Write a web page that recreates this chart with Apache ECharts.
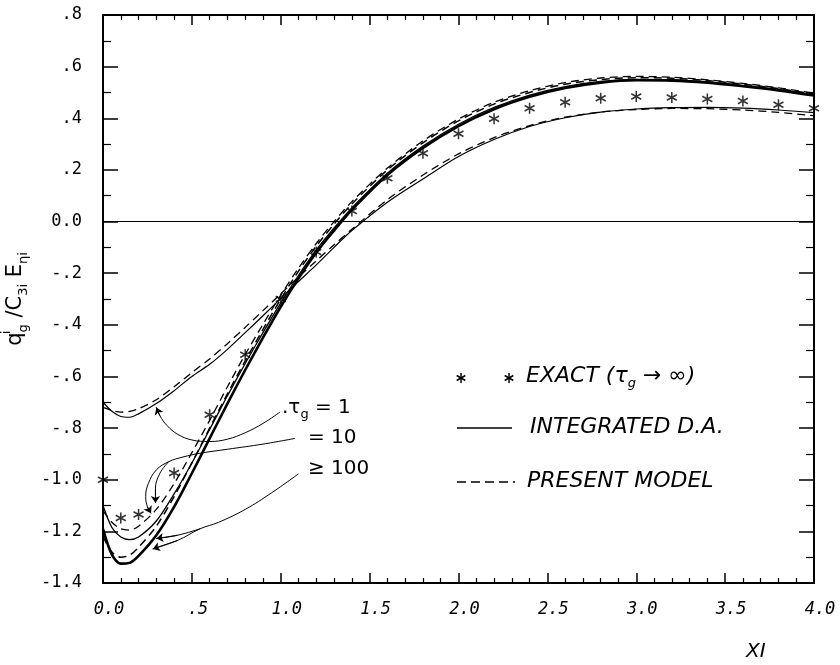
<!DOCTYPE html>
<html>
<head>
<meta charset="utf-8">
<script src="https://cdn.jsdelivr.net/npm/echarts@6/dist/echarts.min.js"></script>
<style>
html, body { margin: 0; padding: 0; background: #fff; }
#chart { width: 840px; height: 665px; }
</style>
</head>
<body>
<div id="chart"></div>
<script>
// abscissa shared by all computed curves
const xiGrid = [0, 0.05, 0.1, 0.15, 0.2, 0.3, 0.4, 0.5, 0.6, 0.7, 0.8, 0.9, 1.0, 1.1, 1.2, 1.3, 1.4,
    1.6, 1.8, 2.0, 2.2, 2.4, 2.6, 2.8, 3.0, 3.2, 3.4, 3.6, 3.8, 4.0];

// integrated D.A. (solid) and present model (dashed), one pair per tau_g
const tau1Solid = [-0.70, -0.735, -0.755, -0.758, -0.745, -0.705, -0.655, -0.60, -0.553, -0.495, -0.43, -0.365,
    -0.298, -0.232, -0.168, -0.10, -0.035, 0.075, 0.165, 0.252, 0.318, 0.368, 0.402, 0.424, 0.436, 0.441,
    0.442, 0.439, 0.432, 0.422];
const tau1Dashed = [-0.72, -0.732, -0.738, -0.735, -0.725, -0.69, -0.64, -0.585, -0.532, -0.473, -0.41, -0.345,
    -0.28, -0.215, -0.152, -0.09, -0.03, 0.085, 0.18, 0.262, 0.325, 0.372, 0.404, 0.424, 0.434, 0.438,
    0.437, 0.432, 0.423, 0.41];
const tau10Solid = [-1.10, -1.185, -1.222, -1.232, -1.222, -1.16, -1.055, -0.935, -0.805, -0.675, -0.55, -0.43,
    -0.315, -0.208, -0.11, -0.025, 0.053, 0.187, 0.292, 0.377, 0.442, 0.49, 0.523, 0.543, 0.551, 0.55,
    0.541, 0.527, 0.511, 0.491];
const tau10Dashed = [-1.12, -1.165, -1.19, -1.195, -1.18, -1.115, -1.015, -0.895, -0.77, -0.64, -0.515, -0.398,
    -0.285, -0.18, -0.085, 0.0, 0.077, 0.207, 0.312, 0.397, 0.462, 0.507, 0.538, 0.556, 0.562, 0.559,
    0.549, 0.535, 0.518, 0.497];
const tau100Solid = [-1.19, -1.29, -1.325, -1.322, -1.295, -1.215, -1.105, -0.975, -0.84, -0.705, -0.575, -0.45,
    -0.33, -0.22, -0.12, -0.035, 0.045, 0.18, 0.285, 0.37, 0.435, 0.483, 0.517, 0.538, 0.547, 0.546,
    0.538, 0.524, 0.508, 0.488];
const tau100Dashed = [-1.22, -1.28, -1.30, -1.292, -1.262, -1.18, -1.065, -0.935, -0.80, -0.667, -0.54, -0.418,
    -0.30, -0.192, -0.095, -0.01, 0.068, 0.20, 0.305, 0.39, 0.455, 0.50, 0.532, 0.55, 0.557, 0.555,
    0.546, 0.532, 0.515, 0.494];

// exact solution (tau_g -> infinity), the stars
const exactXi = [0, 0.1, 0.2, 0.4, 0.6, 0.8, 1.0, 1.2, 1.4, 1.6, 1.8, 2.0, 2.2, 2.4, 2.6, 2.8, 3.0,
    3.2, 3.4, 3.6, 3.8, 4.0];
const exactQ = [-1.0, -1.148, -1.135, -0.974, -0.748, -0.516, -0.30, -0.118, 0.041, 0.168, 0.265, 0.340,
    0.398, 0.439, 0.462, 0.478, 0.484, 0.480, 0.475, 0.467, 0.452, 0.439];

// leader lines from the tau_g labels to the curves
const leader1 = [[0.996, -0.738], [0.9, -0.782], [0.8, -0.818], [0.7, -0.843], [0.6, -0.852], [0.5, -0.846],
    [0.42, -0.824], [0.36, -0.79], [0.32, -0.752], [0.30, -0.72]];
const leader10 = [[1.08, -0.84], [0.9, -0.862], [0.7, -0.882], [0.55, -0.897], [0.45, -0.912], [0.37, -0.93],
    [0.30, -0.962], [0.255, -1.015], [0.24, -1.065], [0.25, -1.105], [0.27, -1.13]];
const leader10b = [[0.37, -0.93], [0.32, -0.975], [0.295, -1.035], [0.295, -1.09]];
const leader100 = [[1.1, -0.977], [0.95, -1.05], [0.8, -1.115], [0.65, -1.165], [0.546, -1.19], [0.42, -1.235],
    [0.28, -1.268]];
const leader100b = [[0.546, -1.19], [0.42, -1.215], [0.30, -1.228]];

const xTicks = ['0.0', '.5', '1.0', '1.5', '2.0', '2.5', '3.0', '3.5', '4.0'];

const STAR = 'path://M5,0L5,10M0.7,2.5L9.3,7.5M0.7,7.5L9.3,2.5';

function zip(xs, ys) {
    return xs.map((x, i) => [x, ys[i]]);
}

function fmtY(v) {
    v = Math.round(v * 10) / 10;
    if (v === 0) return '0.0';
    let sign = v < 0 ? '-' : '';
    let a = Math.abs(v);
    return a < 1 ? sign + '.' + Math.round(a * 10) : sign + a.toFixed(1);
}

function fmtX(v) {
    return xTicks[Math.round(v / 0.5)];
}

function curve(values, dashed, width) {
    return {
        type: 'line',
        data: zip(xiGrid, values),
        smooth: 0.3,
        symbol: 'none',
        silent: true,
        lineStyle: { color: '#000', width: width, type: dashed ? [8, 5] : 'solid' }
    };
}

function leader(points) {
    let n = points.length;
    return {
        type: 'line',
        data: points,
        smooth: 0.4,
        symbol: 'none',
        silent: true,
        lineStyle: { color: '#000', width: 1 },
        markLine: {
            silent: true,
            symbol: ['none', 'arrow'],
            symbolSize: 7,
            label: { show: false },
            lineStyle: { color: '#000', width: 1, type: 'solid' },
            data: [[{ coord: points[n - 2] }, { coord: points[n - 1] }]]
        }
    };
}

// legend asterisk drawn as three strokes around (cx, cy)
function starGlyph(cx, cy) {
    let st = { stroke: '#000', lineWidth: 1.5 };
    return {
        type: 'group', x: cx, y: cy,
        children: [
            { type: 'line', shape: { x1: 0, y1: -5, x2: 0, y2: 5 }, style: st },
            { type: 'line', shape: { x1: -4.3, y1: -2.5, x2: 4.3, y2: 2.5 }, style: st },
            { type: 'line', shape: { x1: -4.3, y1: 2.5, x2: 4.3, y2: -2.5 }, style: st }
        ]
    };
}

function baseXAxis(pos, labels) {
    return {
        type: 'value', min: 0, max: 4, interval: 0.5, position: pos,
        axisLine: { onZero: false, lineStyle: { color: '#000', width: 2 } },
        axisTick: { inside: true, length: 10, lineStyle: { color: '#000', width: 1.5 } },
        minorTick: { show: true, splitNumber: 5, length: 5, lineStyle: { color: '#000', width: 1.2 } },
        splitLine: { show: false },
        axisLabel: labels ? {
            formatter: fmtX, color: '#000', fontFamily: 'DejaVu Sans Mono', fontSize: 17,
            fontStyle: 'italic', margin: 18, padding: [0, 0, 0, 12]
        } : { show: false }
    };
}

function baseYAxis(pos, labels) {
    return {
        type: 'value', min: -1.4, max: 0.8, interval: 0.2, position: pos,
        axisLine: { onZero: false, lineStyle: { color: '#000', width: 2 } },
        axisTick: { inside: true, length: 15, lineStyle: { color: '#000', width: 1.5 } },
        minorTick: { show: true, splitNumber: 2, length: 8, lineStyle: { color: '#000', width: 1.2 } },
        splitLine: { show: false },
        axisLabel: labels ? {
            formatter: fmtY, color: '#000', fontFamily: 'DejaVu Sans Mono', fontSize: 17, margin: 21
        } : { show: false }
    };
}

let yName = baseYAxis('left', true);
yName.name = '{n|q}{sup|i}{sub|g}{n| /C}{sub|3i}{n| E}{sub|ηi}';
yName.nameLocation = 'middle';
yName.nameGap = 70;
yName.nameTextStyle = {
    color: '#000', fontFamily: 'DejaVu Sans', fontSize: 21,
    rich: {
        n: { fontSize: 21, lineHeight: 30, color: '#000' },
        sub: { fontSize: 13, lineHeight: 15, verticalAlign: 'bottom', color: '#000' },
        sup: { fontSize: 13, lineHeight: 15, verticalAlign: 'top', width: 0, color: '#000' }
    }
};

const richTau = {
    t: { fontFamily: 'DejaVu Sans', fontSize: 20, lineHeight: 26, color: '#000' },
    s: { fontFamily: 'DejaVu Sans', fontSize: 13, lineHeight: 14, verticalAlign: 'bottom', color: '#000' }
};
const legendRich = {
    t: { fontFamily: 'DejaVu Sans', fontStyle: 'italic', fontSize: 22, lineHeight: 28, color: '#000' },
    s: { fontFamily: 'DejaVu Sans', fontStyle: 'italic', fontSize: 13, lineHeight: 15, verticalAlign: 'bottom', color: '#000' }
};

let chart = echarts.init(document.getElementById('chart'));
chart.setOption({
    animation: false,
    backgroundColor: '#fff',
    grid: { left: 103, right: 26, top: 15, bottom: 82, containLabel: false, outerBoundsMode: 'none' },
    xAxis: [baseXAxis('bottom', true), baseXAxis('top', false)],
    yAxis: [yName, baseYAxis('right', false)],
    series: [
        curve(tau1Solid, false, 1.2),
        curve(tau1Dashed, true, 1.3),
        curve(tau10Solid, false, 1.3),
        curve(tau10Dashed, true, 1.3),
        curve(tau100Solid, false, 2.6),
        curve(tau100Dashed, true, 1.5),
        {
            type: 'scatter',
            data: zip(exactXi, exactQ),
            symbol: STAR,
            symbolSize: [10, 11],
            silent: true,
            itemStyle: { color: 'transparent', borderColor: '#000', borderWidth: 1.6 },
            markLine: {
                silent: true,
                symbol: ['none', 'none'],
                label: { show: false },
                lineStyle: { color: '#000', width: 1.2, type: 'solid' },
                data: [{ yAxis: 0 }]
            }
        },
        leader(leader1),
        leader(leader10),
        leader(leader10b),
        leader(leader100),
        leader(leader100b)
    ],
    graphic: [
        // tau_g labels
        { type: 'text', left: 282, top: 398,
          style: { text: '{t|.τ}{s|g}{t| = 1}', rich: richTau } },
        { type: 'text', left: 308, top: 428,
          style: { text: '= 10', font: '20px "DejaVu Sans"', fill: '#000' } },
        { type: 'text', left: 308, top: 459,
          style: { text: '≥ 100', font: '20px "DejaVu Sans"', fill: '#000' } },
        // legend
        starGlyph(461, 378),
        starGlyph(509, 378),
        { type: 'text', left: 526, top: 365,
          style: { text: '{t|EXACT (τ}{s|g}{t| → ∞)}', rich: legendRich } },
        { type: 'line', shape: { x1: 457, y1: 428, x2: 512, y2: 428 },
          style: { stroke: '#000', lineWidth: 1.3 } },
        { type: 'text', left: 530, top: 416,
          style: { text: 'INTEGRATED D.A.', font: 'italic 22px "DejaVu Sans"', fill: '#000' } },
        { type: 'line', shape: { x1: 457, y1: 482, x2: 515, y2: 482 },
          style: { stroke: '#000', lineWidth: 1.3, lineDash: [9, 5] } },
        { type: 'text', left: 527, top: 470,
          style: { text: 'PRESENT MODEL', font: 'italic 22px "DejaVu Sans"', fill: '#000' } },
        // x axis title
        { type: 'text', left: 746, top: 642,
          style: { text: 'XI', font: 'italic 20px "DejaVu Sans"', fill: '#000' } }
    ]
});
</script>
</body>
</html>
